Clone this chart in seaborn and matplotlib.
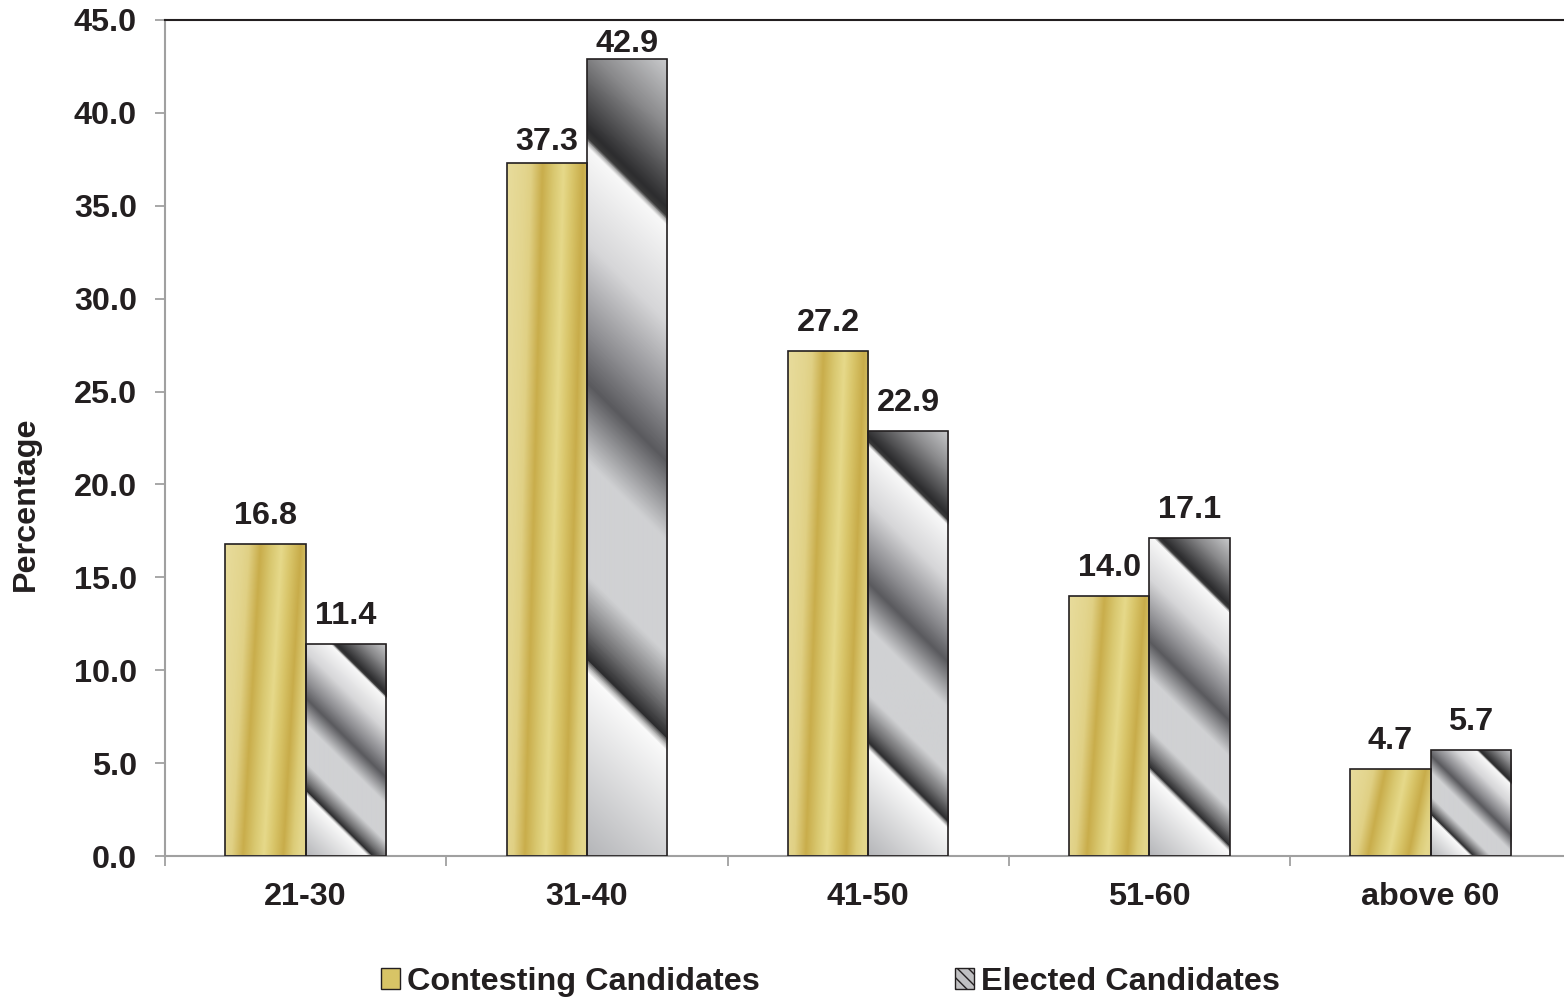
import numpy as np
import pandas as pd
import matplotlib
matplotlib.use("Agg")
import matplotlib.pyplot as plt
import seaborn as sns
from matplotlib.colors import LinearSegmentedColormap
from matplotlib.patches import Patch

# ---------------- data ----------------
categories = ["21-30", "31-40", "41-50", "51-60", "above 60"]
contesting = [16.8, 37.3, 27.2, 14.0, 4.7]
elected = [11.4, 42.9, 22.9, 17.1, 5.7]
series_names = ["Contesting Candidates", "Elected Candidates"]
y_ticks = [0, 5, 10, 15, 20, 25, 30, 35, 40, 45]
y_label = "Percentage"

df = pd.DataFrame({
    "Age group": categories * 2,
    "Percentage": contesting + elected,
    "Series": [series_names[0]] * len(categories) + [series_names[1]] * len(categories),
})

# ---------------- style ----------------
TXT = "#231f20"
GRAY_AX = "#a0a0a0"
FS = 23.3
XMAX = -0.5 + 1399 / 281.25

sns.set_theme(style="white")
plt.rcParams["font.family"] = ["Liberation Sans", "DejaVu Sans"]

fig = plt.figure(figsize=(15.64, 10), dpi=100)
ax = fig.add_axes([165 / 1564, 144 / 1000, 1399 / 1564, 836 / 1000])

sns.barplot(data=df, x="Age group", y="Percentage", hue="Series",
            order=categories, hue_order=series_names, width=0.57,
            palette=["#d8c466", "#c0c0c2"], saturation=1, legend=False,
            ax=ax, edgecolor=TXT, linewidth=1.2)

# ---------------- axes ticks (set before limits) ----------------
ax.set_yticks(y_ticks)
ax.set_yticklabels([f"{v:.1f}" for v in y_ticks], fontsize=FS, fontweight="bold", color=TXT)
ax.tick_params(axis="y", which="major", left=True, direction="out", length=7.2,
               width=1.3, color=GRAY_AX, pad=13)

ax.set_xticks(np.arange(-0.5, len(categories) - 1, 1.0))
ax.set_xticklabels([])
ax.set_xticks(np.arange(len(categories)), minor=True)
ax.set_xticklabels(categories, minor=True, fontsize=FS, fontweight="bold", color=TXT)
ax.tick_params(axis="x", which="major", bottom=True, direction="out", length=7.2,
               width=1.3, color=GRAY_AX)
ax.tick_params(axis="x", which="minor", bottom=True, length=0, pad=19)

ax.set_xlim(-0.5, XMAX)
ax.set_ylim(0, 45)

# ---------------- gradient fills ----------------
gold_stops = [(-0.22, "#e8dc9c"), (0.0, "#e3d58e"), (0.08, "#e0d084"), (0.22, "#c9ad4b"),
              (0.36, "#d9c870"), (0.48, "#e6d98a"), (0.60, "#d8c468"), (0.72, "#c8ac4a"),
              (0.84, "#dccc78"), (0.93, "#e4d78c"), (1.0, "#e2d48a")]
gray_stops = [(0.0, "#cacbcd"), (0.08, "#8a8a8c"), (0.17, "#2c2c2e"), (0.18, "#3a3a3a"),
              (0.184, "#9a9a9a"), (0.19, "#f8f8f8"), (0.30, "#d6d6d8"), (0.40, "#8c8c90"),
              (0.46, "#5a5a5e"), (0.55, "#d0d1d3"), (0.68, "#d0d1d3"), (0.74, "#707072"),
              (0.775, "#2c2c2e"), (0.781, "#9a9a9a"), (0.79, "#fafafa"), (1.0, "#b4b5b8")]


def make_cmap(stops, lo, hi):
    pos = [(p - lo) / (hi - lo) for p, _ in stops]
    return LinearSegmentedColormap.from_list("c", list(zip(pos, [c for _, c in stops])), N=1024)


gold_cmap = make_cmap(gold_stops, -0.22, 1.0)
gray_cmap = make_cmap(gray_stops, 0.0, 1.0)

for ci, container in enumerate(ax.containers):
    for patch in container.patches:
        x0, y0 = patch.get_x(), patch.get_y()
        w, h = patch.get_width(), patch.get_height()
        p0 = ax.transData.transform((x0, y0))
        p1 = ax.transData.transform((x0 + w, y0 + h))
        wpx = max(int(round(abs(p1[0] - p0[0]))), 2)
        hpx = max(int(round(abs(p1[1] - p0[1]))), 2)
        X, Y = np.meshgrid(np.arange(wpx) + 0.5, np.arange(hpx) + 0.5)  # Y measured downwards
        if ci == 0:
            xf = X / wpx
            yup = 1 - Y / hpx
            v = xf - 0.22 * yup
            img = gold_cmap((v + 0.22) / 1.22)
        else:
            u = (Y - X + wpx) / (hpx + wpx)
            img = gray_cmap(u)
        im = ax.imshow(img, extent=[x0, x0 + w, y0, y0 + h], origin="upper",
                       aspect="auto", interpolation="bilinear", zorder=2)
        im.set_clip_path(patch)
        patch.set_facecolor("none")
        patch.set_zorder(3)

ax.set_aspect("auto")

# ---------------- value labels ----------------
# labels sit ~20 px above bars; near the top of the plot area they are squeezed down
for container in ax.containers:
    anns = ax.bar_label(container, fmt="%.1f", padding=0, fontsize=FS,
                        fontweight="bold", color=TXT, zorder=4)
    for patch, ann in zip(container.patches, anns):
        top_px = ax.transData.transform((0, patch.get_height()))[1]
        room_px = (fig.bbox.height - top_px) - 60  # distance of bar top below y≈60px
        pad_px = 13.0 if room_px > 150 else float(np.clip(room_px * 0.06, 0, 13))
        ann.xyann = (0, pad_px * 72 / fig.dpi)

ax.set_xlabel("")
ax.set_ylabel(y_label, fontsize=FS, fontweight="bold", color=TXT)
ax.yaxis.set_label_coords(-0.089, 0.421)

for side in ["left", "bottom"]:
    ax.spines[side].set_color(GRAY_AX)
    ax.spines[side].set_linewidth(1.5)
ax.spines["top"].set_color(TXT)
ax.spines["top"].set_linewidth(1.5)
ax.spines["right"].set_visible(False)
ax.grid(False)

ax.set_autoscale_on(False)
ax.set_xlim(-0.5, XMAX)
ax.set_ylim(0, 45)

# ---------------- legend ----------------
handles = [
    Patch(facecolor="#d8c466", edgecolor=TXT, linewidth=1.0),
    Patch(facecolor="#c0c0c2", edgecolor=TXT, linewidth=1.0, hatch="\\\\\\"),
]
fig.legend(handles, series_names, loc="center", bbox_to_anchor=(0.531, 0.018), ncol=2,
           frameon=False, prop={"size": FS, "weight": "bold"}, labelcolor=TXT,
           handlelength=0.6, handleheight=0.6, handletextpad=0.22, columnspacing=6.0,
           borderaxespad=0)

fig.savefig("out.png", dpi=100)
